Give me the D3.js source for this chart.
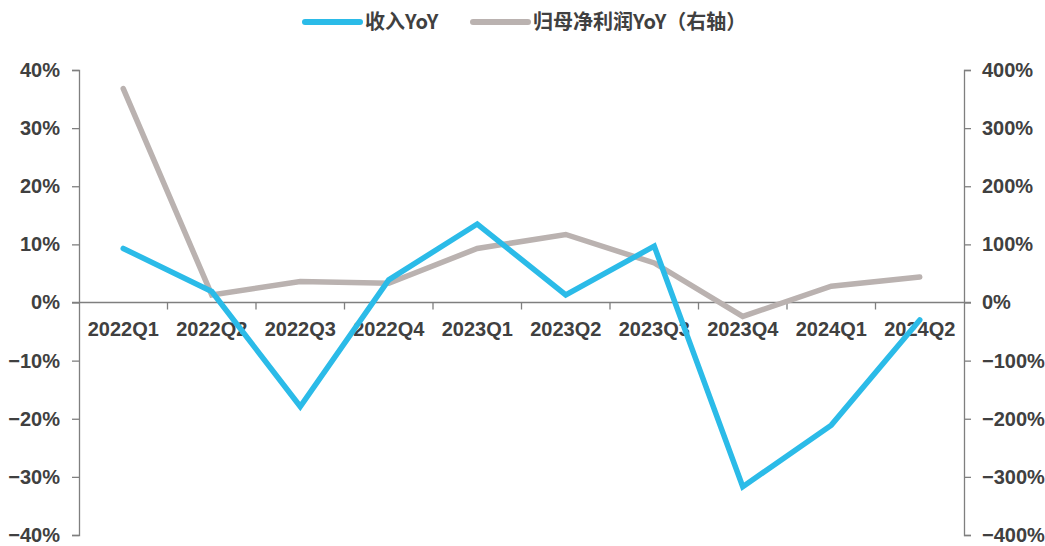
<!DOCTYPE html>
<html>
<head>
<meta charset="utf-8">
<script src="https://cdn.jsdelivr.net/npm/d3@7"></script>
<style>
  body{margin:0;background:#fff;}
  svg text{font-family:"Liberation Sans",Arial,sans-serif;font-weight:bold;fill:#404040;}
  .legend text{font-family:"Noto Sans CJK SC",sans-serif;}
</style>
</head>
<body>
<div id="chart"></div>
<script>
// dados
var categorias = ["2022Q1","2022Q2","2022Q3","2022Q4","2023Q1","2023Q2","2023Q3","2023Q4","2024Q1","2024Q2"];
var receitaYoY = [9.3, 1.9, -17.9, 3.9, 13.5, 1.3, 9.7, -31.7, -21.1, -3.0];     // % eixo esquerdo
var lucroYoY   = [368, 13, 36, 33, 93, 117, 68, -24, 28, 44];                     // % eixo direito
var ticksEsq = [-40,-30,-20,-10,0,10,20,30,40];
var ticksDir = [-400,-300,-200,-100,0,100,200,300,400];
var nomes = ["收入YoY","归母净利润YoY（右轴）"];
var cores = ["#2bbbe8","#bab2b0"];

function LineChart(){
    var width = 1045, height = 546;
    var margin = {top:70, right:81, bottom:11, left:79};
    var plotWidth = width - margin.left - margin.right;
    var plotHeight = height - margin.top - margin.bottom;

    function chart(selection){
        selection.each(function(){
            var el = d3.select(this);
            el.html("");
            var svg = el.append('svg').attr('width',width).attr('height',height);
            var g = svg.append('g').attr('transform','translate('+margin.left+','+margin.top+')');

            var xs = d3.scaleBand().domain(categorias).range([0,plotWidth]);
            var ys = d3.scaleLinear().domain([-40,40]).range([plotHeight,0]);
            var ys2 = d3.scaleLinear().domain([-400,400]).range([plotHeight,0]);

            // eixo esquerdo
            var ax = g.append('g').call(d3.axisLeft(ys).tickValues(ticksEsq).tickSize(7).tickSizeOuter(7).tickPadding(12).tickFormat(function(d){return d+'%';}));
            // eixo direito
            var ax2 = g.append('g').attr('transform','translate('+plotWidth+',0)')
                .call(d3.axisRight(ys2).tickValues(ticksDir).tickSize(7).tickSizeOuter(7).tickPadding(11).tickFormat(function(d){return d+'%';}));
            // eixo x no zero
            var axx = g.append('g').attr('transform','translate(0,'+ys(0)+')')
                .call(d3.axisBottom(xs).tickSize(0).tickPadding(19));
            axx.select('.domain').attr('d','M-7,0H'+(plotWidth+7));
            var divs = d3.range(1,categorias.length).map(function(i){return i*xs.step();});
            axx.selectAll('line.div').data(divs).enter().append('line').attr('class','div')
                .attr('x1',function(d){return d;}).attr('x2',function(d){return d;})
                .attr('y1',0).attr('y2',7);

            [ax,ax2,axx].forEach(function(a){
                a.selectAll('.domain, line').attr('stroke','#7f7f7f').attr('stroke-width',1.3);
                a.selectAll('text').attr('font-size',20).attr('fill','#404040')
                    .style('font-family','"Liberation Sans",Arial,sans-serif').style('font-weight','bold');
            });
            ax.selectAll('text').text(function(d){return (d<0?'\u2212'+Math.abs(d):d)+'%';});
            ax2.selectAll('text').text(function(d){return (d<0?'\u2212'+Math.abs(d):d)+'%';});

            var cx = function(d,i){return xs(categorias[i]) + xs.bandwidth()/2;};
            var linha1 = d3.line().x(cx).y(function(d){return ys(d);});
            var linha2 = d3.line().x(cx).y(function(d){return ys2(d);});

            g.append('path').datum(lucroYoY).attr('d',linha2)
                .attr('fill','none').attr('stroke',cores[1]).attr('stroke-width',5.5).attr('stroke-linecap','round');
            g.append('path').datum(receitaYoY).attr('d',linha1)
                .attr('fill','none').attr('stroke',cores[0]).attr('stroke-width',5.5).attr('stroke-linecap','round');

            // legenda
            var leg = svg.append('g').attr('class','legend');
            var posLeg = [305, 473];
            nomes.forEach(function(n,i){
                leg.append('line').attr('x1',posLeg[i]).attr('x2',posLeg[i]+55).attr('y1',22).attr('y2',22)
                    .attr('stroke',cores[i]).attr('stroke-width',6).attr('stroke-linecap','round');
                leg.append('text').attr('x',posLeg[i]+60).attr('y',22).attr('dy','0.35em')
                    .attr('font-size',20).attr('fill','#404040').text(n);
            });
        });
    }
    return chart;
}

d3.select('#chart').call(LineChart());
</script>
</body>
</html>
